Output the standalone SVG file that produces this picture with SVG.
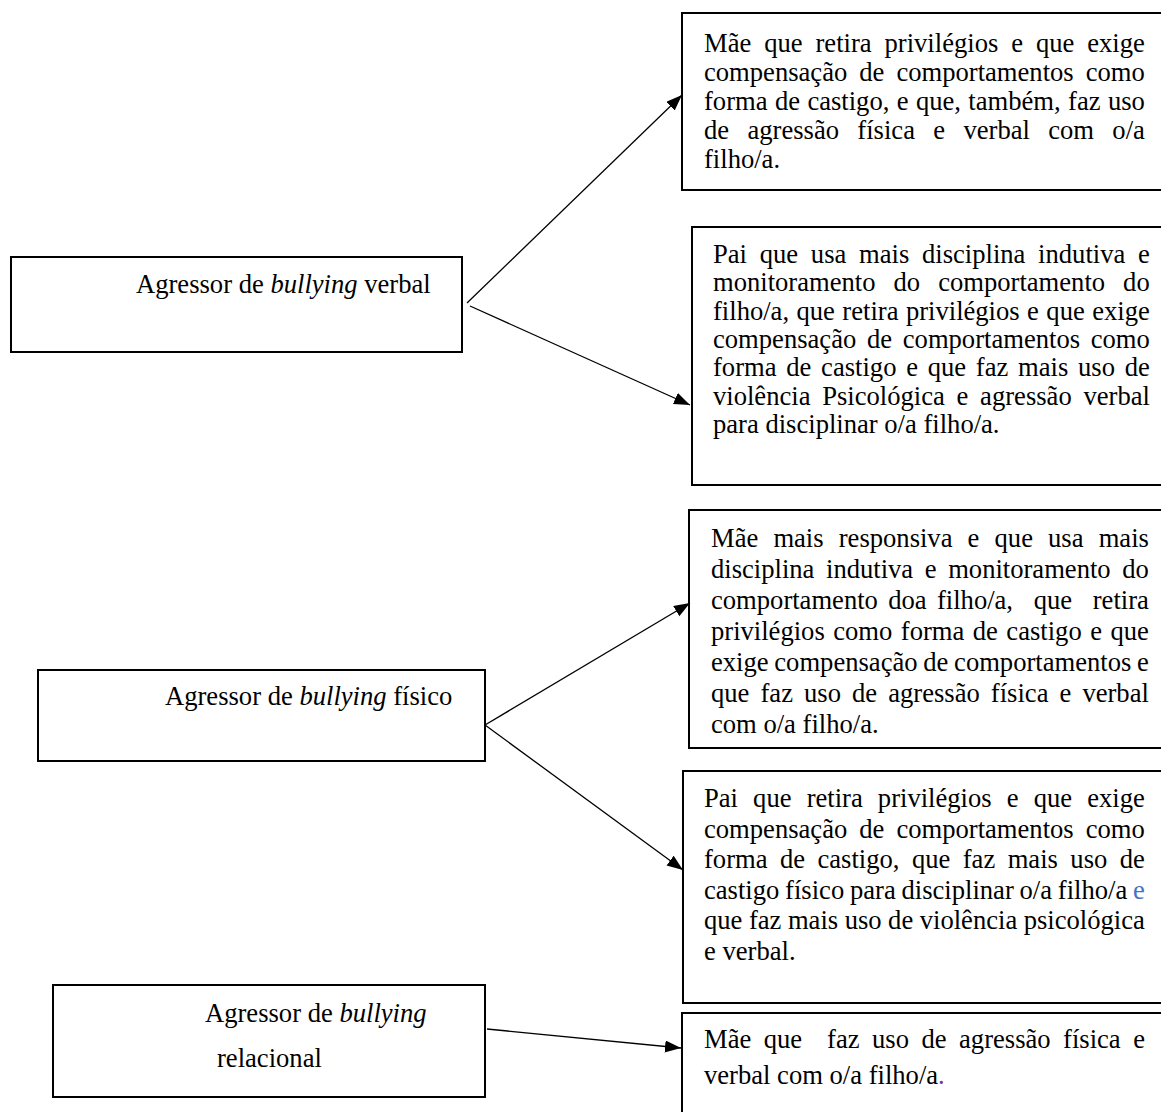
<svg xmlns="http://www.w3.org/2000/svg" width="1161" height="1112" viewBox="0 0 1161 1112">
  <style>
    text { font-family: "Liberation Serif", "Times New Roman", serif; font-size: 26.6px; fill: #000; }
    .box { fill: #fff; stroke: #000; stroke-width: 2; }
    .link { fill: none; stroke: #000; stroke-width: 1.3; marker-end: url(#head); }
    .pre { white-space: pre; }
  </style>
  <defs>
    <marker id="head" markerUnits="userSpaceOnUse" markerWidth="18" markerHeight="14" refX="16" refY="6" orient="auto">
      <path d="M0,0 L16,6 L0,12 z" fill="#000"/>
    </marker>
  </defs>
  <rect width="1161" height="1112" fill="#fff"/>

  <!-- aggressor types (left column) -->
  <g id="verbal">
    <rect class="box" x="11" y="257" width="451" height="95"/>
    <text x="136" y="293">Agressor de <tspan font-style="italic">bullying</tspan> verbal</text>
  </g>
  <g id="fisico">
    <rect class="box" x="38" y="670" width="447" height="91"/>
    <text x="165" y="705">Agressor de <tspan font-style="italic">bullying</tspan> físico</text>
  </g>
  <g id="relacional">
    <rect class="box" x="53" y="985" width="432" height="112"/>
    <text x="205" y="1022">Agressor de <tspan font-style="italic">bullying</tspan></text>
    <text x="217" y="1067">relacional</text>
  </g>

  <!-- parenting practices (right column, clipped at the page edge) -->
  <g id="mae-verbal">
    <rect class="box" x="682" y="13" width="500" height="177"/>
    <text x="704" y="52" style="word-spacing:6.28px">Mãe que retira privilégios e que exige</text>
    <text x="704" y="81" style="word-spacing:5.4px">compensação de comportamentos como</text>
    <text x="704" y="110" style="word-spacing:0.74px">forma de castigo, e que, também, faz uso</text>
    <text x="704" y="139" style="word-spacing:11.7px">de agressão física e verbal com o/a</text>
    <text x="704" y="168">filho/a.</text>
  </g>
  <g id="pai-verbal">
    <rect class="box" x="692" y="227" width="490" height="258"/>
    <text x="713" y="263" style="word-spacing:6.08px">Pai que usa mais disciplina indutiva e</text>
    <text x="713" y="291.3" style="word-spacing:11.4px">monitoramento do comportamento do</text>
    <text x="713" y="319.6" style="word-spacing:0.8px">filho/a, que retira privilégios e que exige</text>
    <text x="713" y="347.9" style="word-spacing:4.07px">compensação de comportamentos como</text>
    <text x="713" y="376.2" style="word-spacing:3.1px">forma de castigo e que faz mais uso de</text>
    <text x="713" y="404.5" style="word-spacing:5.1px">violência Psicológica e agressão verbal</text>
    <text x="713" y="432.8">para disciplinar o/a filho/a.</text>
  </g>
  <g id="mae-fisico">
    <rect class="box" x="689" y="510" width="493" height="238"/>
    <text x="711" y="547" style="word-spacing:8.48px">Mãe mais responsiva e que usa mais</text>
    <text x="711" y="578" style="word-spacing:4.95px">disciplina indutiva e monitoramento do</text>
    <text x="711" y="609" class="pre" style="word-spacing:3.68px">comportamento doa filho/a,  que  retira</text>
    <text x="711" y="640" style="word-spacing:1.83px">privilégios como forma de castigo e que</text>
    <text x="711" y="671" style="word-spacing:-0.93px">exige compensação de comportamentos e</text>
    <text x="711" y="702" style="word-spacing:4.43px">que faz uso de agressão física e verbal</text>
    <text x="711" y="733">com o/a filho/a.</text>
  </g>
  <g id="pai-fisico">
    <rect class="box" x="683" y="771" width="499" height="232"/>
    <text x="704" y="807" style="word-spacing:8.48px">Pai que retira privilégios e que exige</text>
    <text x="704" y="837.5" style="word-spacing:5.4px">compensação de comportamentos como</text>
    <text x="704" y="868" style="word-spacing:5.8px">forma de castigo, que faz mais uso de</text>
    <text x="704" y="898.5" style="word-spacing:-0.87px">castigo físico para disciplinar o/a filho/a <tspan fill="#4472c4">e</tspan></text>
    <text x="704" y="929" style="word-spacing:-0.13px">que faz mais uso de violência psicológica</text>
    <text x="704" y="959.5">e verbal.</text>
  </g>
  <g id="mae-relacional">
    <rect class="box" x="682" y="1013" width="500" height="120"/>
    <text x="704" y="1048" class="pre" style="word-spacing:5.83px">Mãe que  faz uso de agressão física e</text>
    <text x="704" y="1084">verbal com o/a filho/a<tspan fill="#7030a0">.</tspan></text>
  </g>

  <!-- connectors -->
  <g id="connectors">
    <line class="link" x1="467" y1="303" x2="682" y2="95"/>
    <line class="link" x1="470" y1="306" x2="690" y2="405"/>
    <line class="link" x1="485" y1="725" x2="690" y2="603"/>
    <line class="link" x1="485" y1="725" x2="683" y2="870"/>
    <line class="link" x1="487" y1="1029" x2="681" y2="1048"/>
  </g>
</svg>
